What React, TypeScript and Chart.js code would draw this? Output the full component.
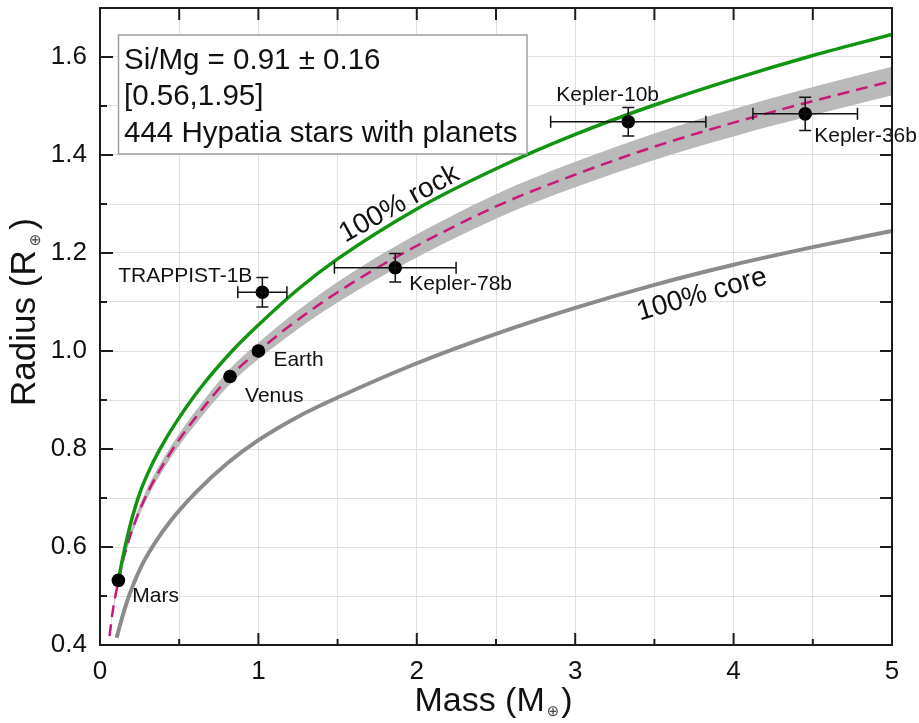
import React, { useEffect, useRef } from 'react';
import { Chart, registerables } from 'chart.js';

Chart.register(...registerables);

const FONT = '"Liberation Sans", Arial, Helvetica, sans-serif';

// 100% rock composition (mass in Earth masses, radius in Earth radii)
const rockMass = [0.116, 0.14, 0.17, 0.2, 0.25, 0.32, 0.4, 0.5, 0.63, 0.84, 1.0, 1.25, 1.5, 2.0, 2.5, 3.0, 3.5, 4.0, 4.5, 5.0];
const rockRadius = [0.532, 0.572, 0.617, 0.656, 0.709, 0.763, 0.812, 0.864, 0.923, 1.002, 1.053, 1.126, 1.188, 1.29, 1.372, 1.442, 1.502, 1.555, 1.603, 1.646];

// 100% iron core
const coreMass = [0.105, 0.13, 0.16, 0.2, 0.26, 0.336, 0.45, 0.61, 0.8, 1.0, 1.25, 1.5, 2.0, 2.5, 3.0, 3.5, 4.0, 4.5, 5.0];
const coreRadius = [0.415, 0.445, 0.478, 0.515, 0.56, 0.603, 0.655, 0.713, 0.77, 0.818, 0.866, 0.905, 0.975, 1.035, 1.088, 1.135, 1.176, 1.212, 1.245];

// Model from the Hypatia Si/Mg distribution: median curve and its spread
const modelMass = [0.06, 0.08, 0.116, 0.15, 0.19, 0.27, 0.45, 0.63, 0.821, 1.0, 1.25, 1.5, 1.86, 2.5, 3.0, 3.5, 4.0, 4.5, 5.0];
const modelRadius = [0.418, 0.468, 0.53, 0.578, 0.622, 0.69, 0.795, 0.875, 0.948, 1.0, 1.064, 1.12, 1.19, 1.295, 1.36, 1.417, 1.466, 1.51, 1.551];
const modelUpper = [0.421, 0.472, 0.536, 0.585, 0.63, 0.7, 0.807, 0.889, 0.964, 1.017, 1.083, 1.141, 1.213, 1.32, 1.386, 1.444, 1.494, 1.539, 1.58];
const modelLower = [0.415, 0.464, 0.524, 0.571, 0.614, 0.68, 0.783, 0.861, 0.932, 0.983, 1.045, 1.099, 1.167, 1.27, 1.334, 1.39, 1.438, 1.481, 1.522];

// Known planets
const planetNames = ['Mars', 'Venus', 'Earth', 'TRAPPIST-1B', 'Kepler-78b', 'Kepler-10b', 'Kepler-36b'];
const planetMass = [0.116, 0.821, 1.0, 1.025, 1.864, 3.335, 4.452];
const planetRadius = [0.532, 0.948, 1.0, 1.12, 1.17, 1.468, 1.484];
const planetMassErr = [0, 0, 0, 0.155, 0.384, 0.49, 0.33];
const planetRadiusErr = [0, 0, 0, 0.03, 0.029, 0.029, 0.034];

const xTickLabels = ['0', '1', '2', '3', '4', '5'];
const yTickLabels = ['0.4', '0.6', '0.8', '1.0', '1.2', '1.4', '1.6'];

const boxLines = ['Si/Mg = 0.91 \u00B1 0.16', '[0.56,1.95]', '444 Hypatia stars with planets'];

const pts = (xs: number[], ys: number[]) => xs.map((x, i) => ({ x, y: ys[i] }));

// where each planet name sits relative to its marker
const labelPlacement: Record<string, { dx: number; dy: number; align: CanvasTextAlign }> = {
  Mars: { dx: 14, dy: 22, align: 'left' },
  Venus: { dx: 15, dy: 26, align: 'left' },
  Earth: { dx: 15, dy: 15, align: 'left' },
  'TRAPPIST-1B': { dx: -10, dy: -10, align: 'right' },
  'Kepler-78b': { dx: 14, dy: 22, align: 'left' },
  'Kepler-10b': { dx: -72, dy: -21, align: 'left' },
  'Kepler-36b': { dx: 9, dy: 28, align: 'left' },
};

const curveLabels = [
  { text: '100% rock', x: 1.89, y: 1.3, angle: -29 },
  { text: '100% core', x: 3.8, y: 1.115, angle: -16 },
];

function drawTitle(
  ctx: CanvasRenderingContext2D,
  cx: number,
  cy: number,
  rot: number,
  main: string,
  close: string,
  size: number,
  gap: number
) {
  ctx.save();
  ctx.translate(cx, cy);
  ctx.rotate(rot);
  ctx.fillStyle = '#111';
  ctx.textBaseline = 'alphabetic';
  ctx.textAlign = 'left';
  const mainFont = `${size}px ${FONT}`;
  const subFont = `15px "DejaVu Sans", ${FONT}`;
  ctx.font = mainFont;
  const w1 = ctx.measureText(main).width;
  const w3 = ctx.measureText(close).width;
  ctx.font = subFont;
  const w2 = ctx.measureText('\u2295').width;
  const total = w1 + gap + w2 + gap + w3;
  const x0 = -total / 2;
  ctx.font = mainFont;
  ctx.fillText(main, x0, 0);
  ctx.font = subFont;
  ctx.fillStyle = '#444';
  ctx.fillText('\u2295', x0 + w1 + gap, 5);
  ctx.fillStyle = '#111';
  ctx.font = mainFont;
  ctx.fillText(close, x0 + w1 + gap + w2 + gap, 0);
  ctx.restore();
}

const decorPlugin = {
  id: 'decor',
  afterDatasetsDraw(chart: any) {
    const { ctx } = chart;
    const xs = chart.scales.x;
    const ys = chart.scales.y;
    // error bars
    ctx.save();
    ctx.strokeStyle = '#111';
    ctx.lineWidth = 1.5;
    ctx.beginPath();
    planetNames.forEach((_, i) => {
      const px = xs.getPixelForValue(planetMass[i]);
      const py = ys.getPixelForValue(planetRadius[i]);
      if (planetMassErr[i] > 0) {
        const l = xs.getPixelForValue(planetMass[i] - planetMassErr[i]);
        const r = xs.getPixelForValue(planetMass[i] + planetMassErr[i]);
        ctx.moveTo(l, py);
        ctx.lineTo(r, py);
        ctx.moveTo(l, py - 6);
        ctx.lineTo(l, py + 6);
        ctx.moveTo(r, py - 6);
        ctx.lineTo(r, py + 6);
      }
      if (planetRadiusErr[i] > 0) {
        const t = ys.getPixelForValue(planetRadius[i] + planetRadiusErr[i]);
        const b = ys.getPixelForValue(planetRadius[i] - planetRadiusErr[i]);
        ctx.moveTo(px, t);
        ctx.lineTo(px, b);
        ctx.moveTo(px - 6, t);
        ctx.lineTo(px + 6, t);
        ctx.moveTo(px - 6, b);
        ctx.lineTo(px + 6, b);
      }
    });
    ctx.stroke();
    ctx.restore();
  },
  afterDraw(chart: any) {
    const { ctx, chartArea: a } = chart;
    const xs = chart.scales.x;
    const ys = chart.scales.y;
    ctx.save();

    // info box
    const bx = a.left + 18.5;
    const by = a.top + 27;
    ctx.fillStyle = '#ffffff';
    ctx.fillRect(bx, by, 408.5, 119);
    ctx.strokeStyle = '#a0a0a0';
    ctx.lineWidth = 1.5;
    ctx.strokeRect(bx, by, 408.5, 119);
    ctx.fillStyle = '#111';
    ctx.font = `29.5px ${FONT}`;
    ctx.textAlign = 'left';
    ctx.textBaseline = 'alphabetic';
    const baselines = [61, 97, 134];
    boxLines.forEach((line, i) => ctx.fillText(line, a.left + 24, a.top + baselines[i]));

    // planet names
    ctx.font = `21px ${FONT}`;
    planetNames.forEach((name, i) => {
      const p = labelPlacement[name];
      ctx.textAlign = p.align;
      ctx.fillText(name, xs.getPixelForValue(planetMass[i]) + p.dx, ys.getPixelForValue(planetRadius[i]) + p.dy);
    });

    // curve names
    ctx.font = `28px ${FONT}`;
    ctx.textAlign = 'center';
    ctx.textBaseline = 'middle';
    curveLabels.forEach((c) => {
      ctx.save();
      ctx.translate(xs.getPixelForValue(c.x), ys.getPixelForValue(c.y));
      ctx.rotate((c.angle * Math.PI) / 180);
      ctx.fillText(c.text, 0, 0);
      ctx.restore();
    });

    // frame with inward ticks on all four sides
    ctx.strokeStyle = '#1c1c1c';
    ctx.lineWidth = 2;
    ctx.beginPath();
    for (let k = 0; k <= 10; k++) {
      const px = xs.getPixelForValue(k * 0.5);
      const major = k % 2 === 0;
      ctx.moveTo(px, a.bottom);
      ctx.lineTo(px, a.bottom - (major ? 12 : 6));
      ctx.moveTo(px, a.top);
      ctx.lineTo(px, a.top + 12);
    }
    for (let k = 0; k <= 13; k++) {
      const py = ys.getPixelForValue(0.4 + k * 0.1);
      const major = k % 2 === 0;
      ctx.moveTo(a.left, py);
      ctx.lineTo(a.left + (major ? 13 : 7), py);
      ctx.moveTo(a.right, py);
      ctx.lineTo(a.right - 12, py);
    }
    ctx.stroke();
    ctx.strokeRect(a.left, a.top, a.right - a.left, a.bottom - a.top);
    ctx.restore();

    // axis titles
    drawTitle(ctx, 493.5, 711, 0, 'Mass (M', ')', 34, 2);
    drawTitle(ctx, 35, 312, -Math.PI / 2, 'Radius (R', ')', 35, 4);
  },
};

export default function App() {
  const canvasRef = useRef<HTMLCanvasElement | null>(null);

  useEffect(() => {
    if (!canvasRef.current) return;
    const curve = {
      showLine: true,
      pointRadius: 0,
      pointHoverRadius: 0,
      cubicInterpolationMode: 'monotone' as const,
      fill: false,
    };
    const chart = new Chart(canvasRef.current, {
      type: 'scatter',
      data: {
        datasets: [
          {
            ...curve,
            label: 'upper',
            data: pts(modelMass, modelUpper),
            borderWidth: 0,
            backgroundColor: '#b9b9b9',
            fill: '+1',
            order: 6,
          },
          {
            ...curve,
            label: 'lower',
            data: pts(modelMass, modelLower),
            borderWidth: 0,
            order: 6,
          },
          {
            ...curve,
            label: '100% core',
            data: pts(coreMass, coreRadius),
            borderColor: '#8b8b8b',
            borderWidth: 4,
            order: 4,
          },
          {
            ...curve,
            label: 'model',
            data: pts(modelMass, modelRadius),
            borderColor: '#c8197b',
            borderWidth: 2.5,
            borderDash: [12, 7],
            order: 3,
          },
          {
            ...curve,
            label: '100% rock',
            data: pts(rockMass, rockRadius),
            borderColor: '#129412',
            borderWidth: 3.5,
            order: 2,
          },
          {
            label: 'planets',
            data: pts(planetMass, planetRadius),
            showLine: false,
            pointRadius: 6.8,
            pointHoverRadius: 6.8,
            pointBackgroundColor: '#000',
            pointBorderWidth: 0,
            order: 1,
          },
        ],
      },
      options: {
        responsive: false,
        animation: false,
        devicePixelRatio: 1,
        layout: { padding: { top: 8, right: 27, bottom: 0, left: 0 } },
        plugins: { legend: { display: false }, tooltip: { enabled: false } },
        events: [],
        scales: {
          x: {
            type: 'linear',
            min: 0,
            max: 5,
            border: { display: false },
            grid: { color: '#e0e0e0', lineWidth: 1, drawTicks: false },
            ticks: {
              stepSize: 0.5,
              autoSkip: false,
              maxRotation: 0,
              padding: 11,
              color: '#111',
              font: { family: FONT, size: 26 },
              callback: (v: any) => {
                const s = String(Number(Number(v).toFixed(1)));
                return xTickLabels.includes(s) ? s : '';
              },
            },
            afterFit: (s: any) => {
              s.height = 78;
              s.paddingLeft = 0;
              s.paddingRight = 0;
            },
          },
          y: {
            type: 'linear',
            min: 0.4,
            max: 1.7,
            border: { display: false },
            grid: { color: '#e0e0e0', lineWidth: 1, drawTicks: false },
            ticks: {
              stepSize: 0.1,
              autoSkip: false,
              padding: 13,
              color: '#111',
              font: { family: FONT, size: 26 },
              callback: (v: any) => {
                const s = Number(v).toFixed(1);
                return yTickLabels.includes(s) ? s : '';
              },
            },
            afterFit: (s: any) => {
              s.width = 100;
              s.paddingTop = 0;
              s.paddingBottom = 0;
            },
          },
        },
      },
      plugins: [decorPlugin],
    });
    return () => chart.destroy();
  }, []);

  return (
    <div style={{ position: 'fixed', left: 0, top: 0, width: 919, height: 723, background: '#fff' }}>
      <canvas ref={canvasRef} width={919} height={723} style={{ display: 'block' }} />
    </div>
  );
}
